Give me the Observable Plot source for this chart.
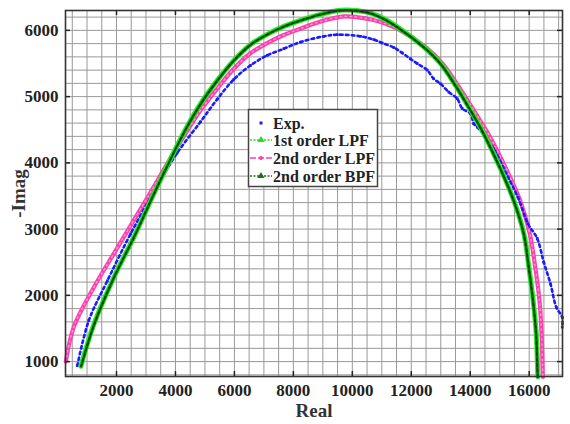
<!DOCTYPE html>
<html><head><meta charset="utf-8">
<script src="https://cdn.jsdelivr.net/npm/d3@7"></script>
<script src="https://cdn.jsdelivr.net/npm/@observablehq/plot@0.6"></script>
<style>body{margin:0;background:#fff}svg{display:block}</style>
</head><body><div id="chart"></div>
<script>
const xTicks = [2000, 4000, 6000, 8000, 10000, 12000, 14000, 16000];
const yTicks = [1000, 2000, 3000, 4000, 5000, 6000];
const seriesNames = ["Exp.", "1st order LPF", "2nd order LPF", "2nd order BPF"];

const expX = [670, 1060, 1690, 2480, 3380, 4060, 4850, 5416, 5979, 6545, 7112, 7675, 8241, 9030, 9490, 10280, 10730, 11010, 11410, 11690, 11970, 12200, 12540, 12760, 12990, 13270, 13560, 13730, 14010, 14120, 14240, 14800, 15280, 15620, 15960, 16271, 16495, 16722, 16920, 17120, 17120];
const expY = [940, 1620, 2220, 2930, 3650, 4150, 4620, 4960, 5260, 5471, 5622, 5723, 5823, 5910, 5935, 5910, 5860, 5810, 5740, 5660, 5570, 5500, 5400, 5270, 5195, 5070, 4968, 4820, 4740, 4591, 4540, 4210, 3784, 3480, 3080, 2860, 2500, 2174, 1820, 1670, 1520];

const lpf1X = [790, 1230, 1910, 2590, 3380, 4300, 4850, 5420, 5980, 6545, 7110, 7675, 8240, 8690, 9600, 10500, 10960, 11500, 12420, 12990, 13500, 13870, 14240, 14460, 15030, 15480, 15820, 15990, 16135, 16240, 16290, 16295];
const lpf1Y = [930, 1560, 2270, 2880, 3640, 4470, 4890, 5245, 5547, 5785, 5940, 6060, 6151, 6215, 6305, 6275, 6200, 6060, 5750, 5500, 5170, 4900, 4620, 4440, 3910, 3430, 2930, 2425, 1920, 1420, 815, 770];

const lpf2X = [280, 550, 1230, 1910, 2590, 3380, 3830, 4340, 4850, 5416, 5979, 6545, 7112, 7675, 8241, 8690, 9710, 10505, 10960, 11520, 12480, 13060, 13585, 13970, 14360, 14610, 15220, 15695, 16020, 16205, 16350, 16420, 16460, 16465];
const lpf2Y = [1000, 1520, 2120, 2630, 3135, 3725, 4070, 4440, 4792, 5119, 5421, 5655, 5808, 5930, 6025, 6100, 6210, 6176, 6125, 6025, 5750, 5500, 5170, 4900, 4620, 4440, 3910, 3430, 2930, 2425, 1920, 1420, 815, 770];

const bpfX = [800, 1240, 1915, 2595, 3385, 4300, 4850, 5420, 5980, 6545, 7110, 7675, 8240, 8690, 9600, 10500, 10955, 11495, 12415, 12985, 13495, 13865, 14235, 14455, 15025, 15475, 15815, 15985, 16130, 16235, 16285, 16290];
const bpfY = [930, 1560, 2270, 2880, 3640, 4466, 4886, 5241, 5543, 5781, 5936, 6056, 6147, 6211, 6300, 6270, 6196, 6056, 5748, 5498, 5168, 4898, 4618, 4438, 3908, 3428, 2928, 2423, 1918, 1418, 813, 770];

const toPts = (xs, ys) => xs.map((x, i) => ({x, y: ys[i]}));
const exp = toPts(expX, expY), lpf1 = toPts(lpf1X, lpf1Y), lpf2 = toPts(lpf2X, lpf2Y), bpf = toPts(bpfX, bpfY);

const xDom = [270, 17130], yDom = [775, 6300];
const font = "'Liberation Serif', 'Times New Roman', serif";

const chart = Plot.plot({
  width: 570, height: 424,
  marginLeft: 65, marginRight: 8, marginTop: 10, marginBottom: 48,
  x: {domain: xDom},
  y: {domain: yDom},
  style: {fontFamily: font, fontWeight: "bold", fontSize: "17px", color: "#222", background: "#fff"},
  marks: [
    Plot.ruleX(d3.range(500, 17001, 500), {stroke: "#999", strokeWidth: 1}),
    Plot.ruleY(d3.range(800, 6300, 200), {stroke: "#999", strokeWidth: 1}),
    Plot.line(lpf2, {x: "x", y: "y", curve: "catmull-rom", stroke: "#ff3fae", strokeWidth: 4.2}),
    Plot.line(lpf2, {x: "x", y: "y", curve: "catmull-rom", stroke: "#ff9bd4", strokeWidth: 1.4, strokeDasharray: "1.5,3.5"}),
    Plot.line(exp, {x: "x", y: "y", curve: "catmull-rom", stroke: "#1a1aff", strokeWidth: 2.6, strokeDasharray: "2.6,3.2"}),
    Plot.dot(exp, {x: "x", y: "y", symbol: "square", r: 1.5, fill: "#1a1aff"}),
    Plot.line(lpf1, {x: "x", y: "y", curve: "catmull-rom", stroke: "#22ee22", strokeWidth: 5}),
    Plot.line(bpf, {x: "x", y: "y", curve: "catmull-rom", stroke: "#0b6b0b", strokeWidth: 2.6}),
    Plot.line(bpf, {x: "x", y: "y", curve: "catmull-rom", stroke: "#033a03", strokeWidth: 1.4, strokeDasharray: "2,3.5"}),
    Plot.ruleX(xTicks, {y1: yDom[0], y2: yDom[0] + 75, stroke: "#222", strokeWidth: 1.5}),
    Plot.ruleX(xTicks, {y1: yDom[1] - 75, y2: yDom[1], stroke: "#222", strokeWidth: 1.5}),
    Plot.ruleY(yTicks, {x1: xDom[0], x2: xDom[0] + 170, stroke: "#222", strokeWidth: 1.5}),
    Plot.ruleY(yTicks, {x1: xDom[1] - 170, x2: xDom[1], stroke: "#222", strokeWidth: 1.5}),
    Plot.frame({stroke: "#333", strokeWidth: 1.6}),
    Plot.axisX(xTicks, {tickSize: 0, tickPadding: 7, label: null, tickFormat: d => String(d)}),
    Plot.axisY(yTicks, {tickSize: 0, tickPadding: 7, label: null, tickFormat: d => String(d)}),
    Plot.text(["Real"], {frameAnchor: "bottom", lineAnchor: "middle", textAnchor: "middle", dy: 34, fontSize: 19, fill: "#333"}),
    Plot.text(["-Imag"], {frameAnchor: "left", lineAnchor: "middle", textAnchor: "middle", dx: -47, rotate: -90, fontSize: 19, fill: "#333"})
  ]
});
document.getElementById("chart").appendChild(chart);

// Legend inside plot area
const svg = d3.select(chart);
const lg = svg.append("g").attr("font-family", font).attr("font-weight", "bold").attr("font-size", 16).attr("text-anchor", "start");
lg.append("rect").attr("x", 248.5).attr("y", 109.5).attr("width", 129).attr("height", 77)
  .attr("fill", "#fff").attr("stroke", "#444").attr("stroke-width", 1.5);
const rows = [
  {name: seriesNames[0], y: 123, kind: "exp"},
  {name: seriesNames[1], y: 140, kind: "lpf1"},
  {name: seriesNames[2], y: 158, kind: "lpf2"},
  {name: seriesNames[3], y: 176, kind: "bpf"}
];
rows.forEach(r => {
  if (r.kind === "exp") {
    lg.append("rect").attr("x", 259.5).attr("y", r.y - 1.5).attr("width", 3).attr("height", 3).attr("fill", "#1a1aff");
  } else {
    const col = r.kind === "lpf1" ? "#22dd22" : r.kind === "lpf2" ? "#ff3fae" : "#1e6e1e";
    const dash = r.kind === "lpf2" ? "6,2" : "2,1.5";
    lg.append("line").attr("x1", 250).attr("x2", 272).attr("y1", r.y).attr("y2", r.y)
      .attr("stroke", col).attr("stroke-width", 1.4).attr("stroke-dasharray", dash);
    if (r.kind === "lpf2") {
      lg.append("circle").attr("cx", 261).attr("cy", r.y).attr("r", 2).attr("fill", col);
    } else {
      lg.append("path").attr("d", d3.symbol(d3.symbolTriangle, 22)()).attr("transform", `translate(261,${r.y})`).attr("fill", col);
    }
  }
  lg.append("text").attr("x", 273).attr("y", r.y).attr("dy", "0.35em").attr("fill", "#222").text(r.name);
});
</script>
</body></html>
